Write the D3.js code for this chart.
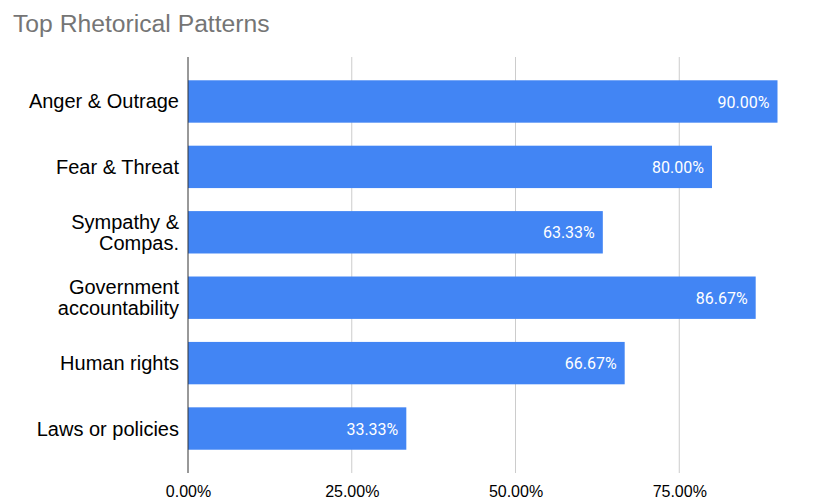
<!DOCTYPE html>
<html>
<head>
<meta charset="utf-8">
<script src="https://cdn.jsdelivr.net/npm/d3@7"></script>
<style>
  body { margin: 0; background: #fff; }
  svg { display: block; font-family: "Liberation Sans", Arial, sans-serif; }
</style>
</head>
<body>
<div id="chart"></div>
<script>
// chart data
const categories = [
  ['Anger & Outrage'],
  ['Fear & Threat'],
  ['Sympathy &', 'Compas.'],
  ['Government', 'accountability'],
  ['Human rights'],
  ['Laws or policies']
];
const values = [0.9, 0.8, 0.6333, 0.8667, 0.6667, 0.3333];
const valueLabels = ['90.00%', '80.00%', '63.33%', '86.67%', '66.67%', '33.33%'];
const ticks = [0, 0.25, 0.5, 0.75];
const tickLabels = ['0.00%', '25.00%', '50.00%', '75.00%'];

const W = 830, H = 502;
const margin = {top: 57, right: -13, bottom: 29, left: 188};
const w = W - margin.left - margin.right,
      h = H - margin.top - margin.bottom;

let xScale = d3.scaleLinear().domain([0, 1]).range([0, w]);
let yScale = d3.scaleBand()
  .domain(d3.range(categories.length))
  .range([0, h])
  .paddingInner(0.352)
  .paddingOuter(0.356);

const svg = d3.select('#chart').append('svg')
  .attr('width', W)
  .attr('height', H);

svg.append('text')
  .attr('x', 13)
  .attr('y', 32)
  .attr('fill', '#757575')
  .style('font-size', '24.7px')
  .text('Top Rhetorical Patterns');

const g = svg.append('g')
  .attr('transform', 'translate(' + margin.left + ',' + margin.top + ')');

// gridlines
g.selectAll('.grid')
  .data(ticks.slice(1))
  .enter()
  .append('line')
  .attr('x1', d => xScale(d)).attr('x2', d => xScale(d))
  .attr('y1', 0).attr('y2', h)
  .attr('stroke', '#cccccc')
  .attr('stroke-width', 1);

// x tick labels
const xAxis = d3.axisBottom(xScale)
  .tickValues(ticks)
  .tickFormat((d, i) => tickLabels[i])
  .tickSize(0)
  .tickPadding(0);
const xg = g.append('g')
  .attr('transform', 'translate(0,' + (h + 24) + ')')
  .call(xAxis);
xg.select('.domain').remove();
xg.selectAll('text')
  .attr('dy', 0)
  .attr('fill', '#000')
  .style('font-family', '"Liberation Sans", Arial, sans-serif')
  .style('font-size', '16px');

// bars
g.selectAll('rect.bar')
  .data(values)
  .enter()
  .append('rect')
  .attr('class', 'bar')
  .attr('x', 0)
  .attr('y', (d, i) => yScale(i))
  .attr('width', d => xScale(d))
  .attr('height', yScale.bandwidth())
  .attr('fill', '#4285f4');

// value labels
g.selectAll('text.val')
  .data(values)
  .enter()
  .append('text')
  .attr('class', 'val')
  .attr('x', d => xScale(d) - 8)
  .attr('y', (d, i) => yScale(i) + yScale.bandwidth() / 2)
  .attr('dy', '0.38em')
  .attr('text-anchor', 'end')
  .attr('fill', '#ffffff')
  .style('font-family', 'Roboto, sans-serif')
  .style('font-size', '16px')
  .text((d, i) => valueLabels[i]);

// category labels
const cat = g.selectAll('text.cat')
  .data(categories)
  .enter()
  .append('text')
  .attr('class', 'cat')
  .attr('text-anchor', 'end')
  .attr('fill', '#000')
  .style('font-size', '20px')
  .attr('transform', (d, i) => 'translate(-9,' + (yScale(i) + yScale.bandwidth() / 2) + ')');
cat.each(function (lines) {
  const t = d3.select(this);
  const lh = 21;
  lines.forEach((s, j) => {
    t.append('tspan')
      .attr('x', 0)
      .attr('y', (j - (lines.length - 1) / 2) * lh)
      .attr('dy', '0.35em')
      .text(s);
  });
});

// left axis line
g.append('line')
  .attr('x1', 0).attr('x2', 0)
  .attr('y1', 0).attr('y2', h)
  .attr('stroke', '#333333')
  .attr('stroke-width', 1);
</script>
</body>
</html>
